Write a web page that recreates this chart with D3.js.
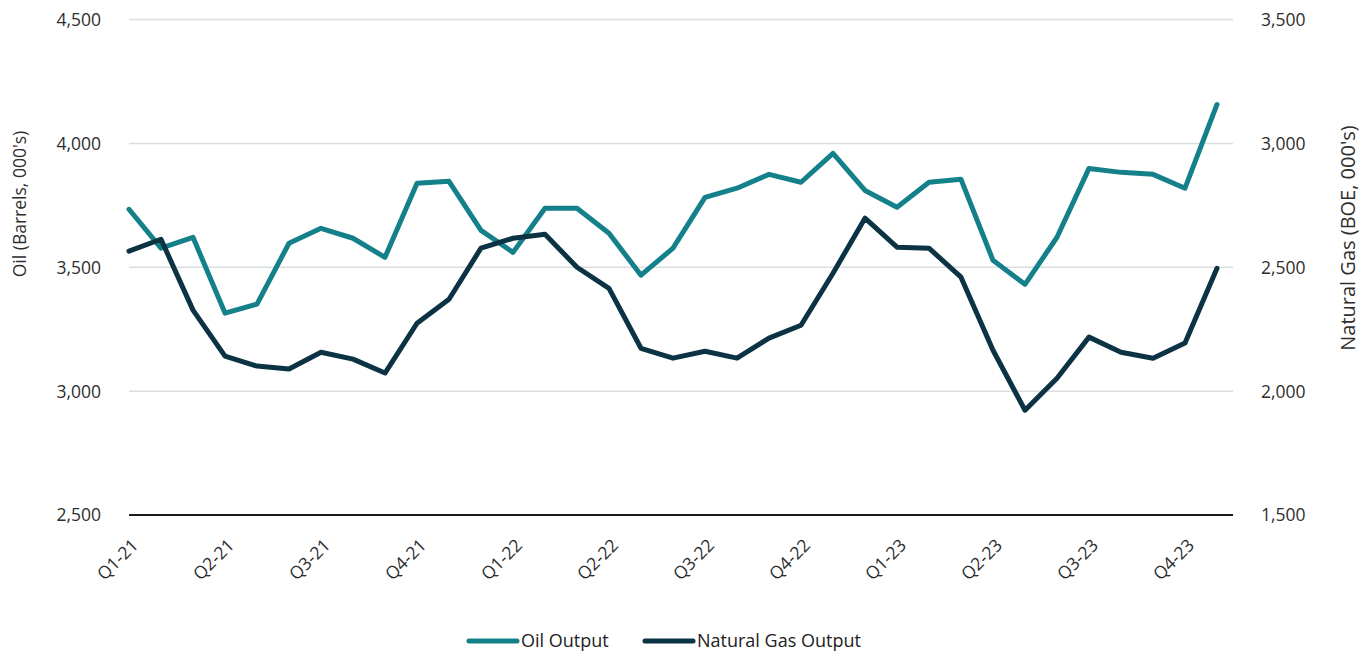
<!DOCTYPE html>
<html>
<head>
<meta charset="utf-8">
<script src="https://cdn.jsdelivr.net/npm/d3@7"></script>
<style>
  html, body { margin: 0; padding: 0; background: #fff; }
  svg { display: block; font-family: "Open Sans", "Noto Sans", sans-serif; }
</style>
</head>
<body>
<svg id="chart" width="1371" height="653"></svg>
<script>
const months = ["Jan-21","Feb-21","Mar-21","Apr-21","May-21","Jun-21","Jul-21","Aug-21","Sep-21","Oct-21","Nov-21","Dec-21",
                "Jan-22","Feb-22","Mar-22","Apr-22","May-22","Jun-22","Jul-22","Aug-22","Sep-22","Oct-22","Nov-22","Dec-22",
                "Jan-23","Feb-23","Mar-23","Apr-23","May-23","Jun-23","Jul-23","Aug-23","Sep-23","Oct-23","Nov-23"];
const quarterLabels = ["Q1-21","Q2-21","Q3-21","Q4-21","Q1-22","Q2-22","Q3-22","Q4-22","Q1-23","Q2-23","Q3-23","Q4-23"];
const oilOutput = [3734, 3577, 3621, 3315, 3351, 3597, 3657, 3617, 3540, 3839, 3847, 3649,
                   3560, 3738, 3738, 3637, 3468, 3577, 3782, 3819, 3875, 3843, 3960, 3810,
                   3742, 3843, 3855, 3528, 3431, 3621, 3899, 3883, 3875, 3819, 4157];
const gasOutput = [2565, 2613, 2327, 2141, 2101, 2089, 2157, 2129, 2073, 2274, 2371, 2577,
                   2617, 2633, 2500, 2415, 2173, 2133, 2161, 2133, 2214, 2266, 2476, 2698,
                   2581, 2577, 2460, 2165, 1923, 2052, 2218, 2157, 2133, 2194, 2496];
const oilTicks = [2500, 3000, 3500, 4000, 4500];
const gasTicks = [1500, 2000, 2500, 3000, 3500];
const seriesNames = ["Oil Output", "Natural Gas Output"];

const colors = { oil: "#14818a", gas: "#0c3344", grid: "#d9dfe0", axis: "#1a1a1a", text: "#2e2e2e" };

const svg = d3.select("#chart");
const plotLeft = 129, plotRight = 1233, plotTop = 19.5, plotBottom = 515;

const x = d3.scaleLinear().domain([0, months.length - 0.5]).range([plotLeft, plotRight]);
const yOil = d3.scaleLinear().domain([2500, 4500]).range([plotBottom, plotTop]);
const yGas = d3.scaleLinear().domain([1500, 3500]).range([plotBottom, plotTop]);

// gridlines
svg.append("g").selectAll("line").data(oilTicks.slice(1)).join("line")
  .attr("x1", plotLeft).attr("x2", plotRight)
  .attr("y1", d => yOil(d)).attr("y2", d => yOil(d))
  .attr("stroke", colors.grid).attr("stroke-width", 1.5);

// left axis
const leftAxis = d3.axisLeft(yOil).tickValues(oilTicks).tickSize(0).tickPadding(28)
  .tickFormat(d3.format(","));
const gl = svg.append("g").attr("transform", `translate(${plotLeft},0)`).call(leftAxis);
gl.select(".domain").remove();
gl.selectAll("text").attr("font-size", 17.5).attr("fill", colors.text)
  .attr("font-family", "'Open Sans', sans-serif").attr("dy", "0.34em");

// right axis
const rightAxis = d3.axisRight(yGas).tickValues(gasTicks).tickSize(0).tickPadding(28)
  .tickFormat(d3.format(","));
const gr = svg.append("g").attr("transform", `translate(${plotRight},0)`).call(rightAxis);
gr.select(".domain").remove();
gr.selectAll("text").attr("font-size", 17.5).attr("fill", colors.text)
  .attr("font-family", "'Open Sans', sans-serif").attr("dy", "0.34em");

// x axis baseline
svg.append("line").attr("x1", plotLeft).attr("x2", plotRight).attr("y1", plotBottom).attr("y2", plotBottom)
  .attr("stroke", colors.axis).attr("stroke-width", 2);

// x tick labels (every quarter)
const tickIdx = quarterLabels.map((q, i) => i * 3);
svg.append("g").selectAll("text").data(tickIdx).join("text")
  .attr("transform", d => `translate(${x(d) + 6},${plotBottom + 27}) rotate(-45)`)
  .attr("text-anchor", "end").attr("dy", "0.35em")
  .attr("font-size", 17.5).attr("fill", colors.text)
  .text((d, i) => quarterLabels[i]);

// axis titles
svg.append("text").attr("transform", `translate(26,204) rotate(-90)`)
  .attr("text-anchor", "middle").attr("font-size", 17.5).attr("fill", colors.text)
  .text("Oil (Barrels, 000's)");
svg.append("text").attr("transform", `translate(1355,238) rotate(-90)`)
  .attr("text-anchor", "middle").attr("font-size", 20).attr("fill", colors.text)
  .text("Natural Gas (BOE, 000's)");

// lines
const lineOil = d3.line().x((d, i) => x(i)).y(d => yOil(d));
const lineGas = d3.line().x((d, i) => x(i)).y(d => yGas(d));
svg.append("path").datum(oilOutput).attr("d", lineOil)
  .attr("fill", "none").attr("stroke", colors.oil).attr("stroke-width", 5)
  .attr("stroke-linejoin", "round").attr("stroke-linecap", "round");
svg.append("path").datum(gasOutput).attr("d", lineGas)
  .attr("fill", "none").attr("stroke", colors.gas).attr("stroke-width", 5)
  .attr("stroke-linejoin", "round").attr("stroke-linecap", "round");

// legend
const legend = [
  { name: seriesNames[0], color: colors.oil, x: 467 },
  { name: seriesNames[1], color: colors.gas, x: 643 }
];
const lg = svg.append("g").selectAll("g").data(legend).join("g")
  .attr("transform", d => `translate(${d.x},641)`);
lg.append("line").attr("x1", 2).attr("x2", 50).attr("y1", 0).attr("y2", 0)
  .attr("stroke", d => d.color).attr("stroke-width", 5).attr("stroke-linecap", "round");
lg.append("text").attr("x", 54).attr("dy", "0.35em").attr("font-size", 18)
  .attr("fill", "#222").text(d => d.name);
</script>
</body>
</html>
